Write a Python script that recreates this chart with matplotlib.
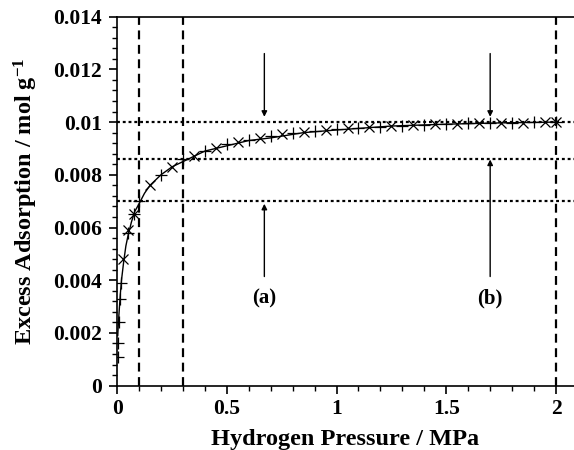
import numpy as np
import matplotlib.pyplot as plt
from matplotlib.ticker import MultipleLocator

plt.rcParams['font.family'] = 'Liberation Serif'
plt.rcParams['font.weight'] = 'bold'
plt.rcParams['mathtext.fontset'] = 'custom'
plt.rcParams['mathtext.rm'] = 'Liberation Serif:bold'
plt.rcParams['mathtext.bf'] = 'Liberation Serif:bold'
plt.rcParams['mathtext.default'] = 'bf'

# Данные: серия "+"
p_plus = [0.002, 0.004, 0.010, 0.015, 0.018, 0.05, 0.075, 0.1, 0.2, 0.3, 0.4, 0.5, 0.6, 0.7,
          0.8, 0.9, 1.0, 1.1, 1.2, 1.3, 1.4, 1.5, 1.6, 1.7, 1.8, 1.9, 2.0]
a_plus = [0.0011, 0.0016, 0.0024, 0.0033, 0.0039, 0.0058, 0.0065, 0.0070, 0.0080, 0.0086,
          0.0089, 0.00917, 0.00932, 0.00947, 0.00958, 0.00966, 0.00973, 0.00978, 0.00983,
          0.00987, 0.0099, 0.00993, 0.00995, 0.00997, 0.00998, 0.00999, 0.0100]

# Серия "x"
p_x = [0.025, 0.05, 0.075, 0.15, 0.25, 0.35, 0.45, 0.55, 0.65, 0.75, 0.85, 0.95, 1.05,
       1.15, 1.25, 1.35, 1.45, 1.55, 1.65, 1.75, 1.85, 1.95, 2.0]
a_x = [0.0048, 0.0059, 0.0065, 0.0076, 0.0083, 0.0087, 0.0090, 0.00924, 0.0094, 0.00953,
       0.00961, 0.0097, 0.00976, 0.00981, 0.00985, 0.00988, 0.00991, 0.00994, 0.00996,
       0.00997, 0.00998, 0.00999, 0.0100]

# Аппроксимирующая кривая
p_fit = [0.003, 0.006, 0.01, 0.015, 0.02, 0.03, 0.04, 0.05, 0.065, 0.08, 0.1, 0.125, 0.15,
         0.2, 0.25, 0.3, 0.4, 0.5, 0.6, 0.7, 0.85, 1.0, 1.25, 1.5, 1.75, 2.0]
a_fit = [0.0019, 0.0024, 0.0029, 0.0035, 0.0040, 0.0047, 0.0053, 0.0057, 0.0062, 0.0066,
         0.0069, 0.0073, 0.0076, 0.0080, 0.0083, 0.0085, 0.0089, 0.0091, 0.0093, 0.0094,
         0.0096, 0.0097, 0.00985, 0.00992, 0.00997, 0.0100]

v_lines = [0.1, 0.3, 2.0]
h_lines = [0.007, 0.0086, 0.01]

# Стрелки: (x, y начала, y конца)
arrows = [(0.671, 0.0126, 0.0102), (1.70, 0.0126, 0.0102),
          (0.671, 0.00414, 0.0069), (1.70, 0.00414, 0.00858)]
labels = [(0.671, 0.0033, '(a)'), (1.70, 0.0033, '(b)')]

fig = plt.figure(figsize=(5.74, 4.5), dpi=100)
ax = fig.add_axes([0.204, 0.143, 0.796, 0.82])

for v in v_lines:
    ax.axvline(v, color='black', linestyle=(0, (4, 2.5)), linewidth=1.6)
for h in h_lines:
    ax.axhline(h, color='black', linestyle=(0, (1.3, 1.3)), linewidth=1.6)

ax.plot(p_fit, a_fit, color='black', linewidth=1.0)
ax.plot(p_plus, a_plus, linestyle='none', marker='+', markersize=8.5, color='black',
        markeredgewidth=0.9)
ax.plot(p_x, a_x, linestyle='none', marker='x', markersize=7.5, color='black',
        markeredgewidth=0.9)

for x, y0, y1 in arrows:
    ax.annotate('', xy=(x, y1), xytext=(x, y0),
                arrowprops=dict(arrowstyle='-|>', color='black', lw=1.0,
                                mutation_scale=8, shrinkA=0, shrinkB=0))
for x, y, t in labels:
    ax.text(x, y, t, ha='center', va='center', fontsize=15, fontweight='bold')

ax.set_xlim(0, 2.082)
ax.set_ylim(0, 0.014)
ax.set_xticks([0, 0.5, 1, 1.5, 2])
ax.set_xticklabels(['0', '0.5', '1', '1.5', '2'])
ax.set_yticks([0, 0.002, 0.004, 0.006, 0.008, 0.01, 0.012, 0.014])
ax.set_yticklabels(['0', '0.002', '0.004', '0.006', '0.008', '0.01', '0.012', '0.014'])
ax.xaxis.set_minor_locator(MultipleLocator(0.1))
ax.yaxis.set_minor_locator(MultipleLocator(0.0004))
ax.tick_params(which='major', length=6, width=1.2, labelsize=15.5, direction='out')
ax.tick_params(which='minor', length=3.5, width=1.0, direction='out')
ax.tick_params(axis='y', which='major', pad=5)
ax.spines['right'].set_visible(False)
for s in ['left', 'bottom', 'top']:
    ax.spines[s].set_linewidth(1.2)

ax.set_xlabel('Hydrogen Pressure / MPa', fontsize=17.5, fontweight='bold', labelpad=7)
ax.set_ylabel(r'Excess Adsorption / mol g$^{-1}$', fontsize=17.5, fontweight='bold', labelpad=9)

plt.savefig('out.png', dpi=100)
